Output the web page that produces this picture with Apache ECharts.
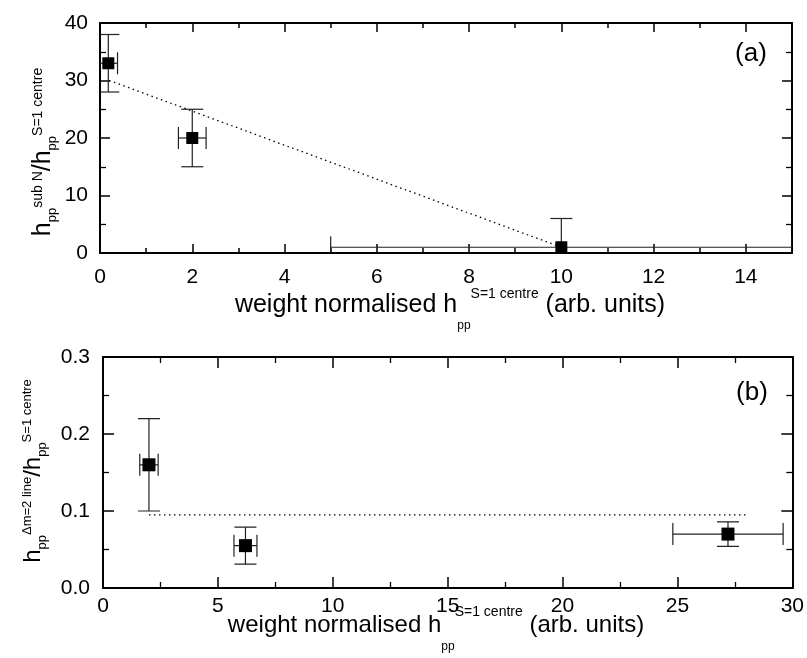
<!DOCTYPE html>
<html lang="en">
<head>
<meta charset="UTF-8">
<title>hpp ratios</title>
<style>
    body,html{
        margin: 0;
        width: 807px;
        height: 658px;
        background: #fff;
    }
    #chart{
        width: 807px;
        height: 658px;
    }
</style>
</head>
<body>
<div id="chart"></div>
<script src="https://cdn.jsdelivr.net/npm/echarts@6/dist/echarts.min.js"></script>
<script type="text/javascript">
    // panel (a): h_pp(sub N) / h_pp(S=1 centre)
    const xA = [0.18, 2.0, 10.0];
    const yA = [33, 20, 1];
    const xErrA = [0.2, 0.3, 5.0];
    const yErrA = [5, 5, 5];
    const fitXA = [0.2, 10];
    const fitYA = [30, 1];

    // panel (b): h_pp(dm=2 line) / h_pp(S=1 centre)
    const xB = [2.0, 6.2, 27.2];
    const yB = [0.16, 0.055, 0.07];
    const xErrB = [0.4, 0.5, 2.4];
    const yErrB = [0.06, 0.024, 0.016];
    const fitXB = [2, 28];
    const fitYB = [0.095, 0.095];

    const FONT = '"Liberation Sans", Arial, sans-serif';

    let myChart = echarts.init(document.getElementById("chart"));

    //轴
    function valueAxis(grid, pos, min, max, step, opt) {
        return {
            type: 'value', gridIndex: grid, position: pos,
            min: min, max: max, interval: step,
            axisLine: {show: opt.line, onZero: false, lineStyle: {color: '#000', width: 2}},
            axisTick: {show: true, inside: true, length: opt.tick, lineStyle: {color: '#000', width: 1.5}},
            minorTick: {show: !!opt.minor, splitNumber: 2, length: opt.minor || 0, lineStyle: {color: '#000', width: 1.3}},
            splitLine: {show: false},
            axisLabel: opt.label ? {
                show: true, margin: opt.margin, color: '#000',
                fontFamily: FONT, fontSize: 21, formatter: opt.fmt
            } : {show: false}
        };
    }

    //误差棒
    function errorBars(params, api) {
        let x = api.value(0), y = api.value(1), dx = api.value(2), dy = api.value(3);
        let c = api.coord([x, y]);
        let top = api.coord([x, y + dy]), bot = api.coord([x, y - dy]);
        let lft = api.coord([x - dx, y]), rgt = api.coord([x + dx, y]);
        let cap = 11;
        let st = {stroke: '#222', lineWidth: 1.2};
        let cs = params.coordSys;
        function seg(x1, y1, x2, y2) {
            return {type: 'line', shape: {x1: x1, y1: y1, x2: x2, y2: y2}, style: st};
        }
        return {
            type: 'group',
            clipPath: {type: 'rect', shape: {x: cs.x, y: cs.y, width: cs.width, height: cs.height}},
            children: [
                seg(c[0], top[1], c[0], bot[1]),
                seg(c[0] - cap, top[1], c[0] + cap, top[1]),
                seg(c[0] - cap, bot[1], c[0] + cap, bot[1]),
                seg(lft[0], c[1], rgt[0], c[1]),
                seg(lft[0], c[1] - cap, lft[0], c[1] + cap),
                seg(rgt[0], c[1] - cap, rgt[0], c[1] + cap)
            ]
        };
    }

    function pairs(xs, ys) {
        return xs.map((x, i) => [x, ys[i]]);
    }

    // m = main text, b = subscript, t = superscript
    function rich(m, sub, sup, lh, supPad) {
        return {
            m: {font: m + 'px ' + FONT, lineHeight: lh, verticalAlign: 'middle', fill: '#000'},
            b: {font: sub + 'px ' + FONT, lineHeight: sub, verticalAlign: 'bottom', fill: '#000'},
            t: {font: sup + 'px ' + FONT, lineHeight: sup, verticalAlign: 'top', fill: '#000', padding: [supPad, 0, 0, 0]}
        };
    }

    const xTitle = '{m|weight normalised h}{b|pp}{t|S=1 centre}{m| (arb. units)}';
    const yTitleA = '{m|h}{b|pp}{t|sub N}{m|/h}{b|pp}{t|S=1 centre}';
    const yTitleB = '{m|h}{b|pp}{t|\u0394m=2 line}{m|/h}{b|pp}{t|S=1 centre}';

    let option = {
        animation: false,
        grid: [
            {left: 100, top: 23, width: 692, height: 230},
            {left: 103, top: 357, width: 690, height: 231}
        ],
        xAxis: [
            valueAxis(0, 'bottom', 0, 15, 1, {line: true, tick: 5, label: true, margin: 14,
                fmt: v => (v % 2 === 0 ? String(v) : '')}),
            valueAxis(0, 'bottom', 0, 15, 2, {line: false, tick: 9}),
            valueAxis(0, 'top', 0, 15, 1, {line: true, tick: 5}),
            valueAxis(0, 'top', 0, 15, 2, {line: false, tick: 9}),
            valueAxis(1, 'bottom', 0, 30, 5, {line: true, tick: 11, minor: 6, label: true, margin: 8}),
            valueAxis(1, 'top', 0, 30, 5, {line: true, tick: 11, minor: 6})
        ],
        yAxis: [
            valueAxis(0, 'left', 0, 40, 10, {line: true, tick: 10, minor: 6, label: true, margin: 12}),
            valueAxis(0, 'right', 0, 40, 10, {line: true, tick: 10, minor: 6}),
            valueAxis(1, 'left', 0, 0.3, 0.1, {line: true, tick: 11, minor: 6, label: true, margin: 13,
                fmt: v => v.toFixed(1)}),
            valueAxis(1, 'right', 0, 0.3, 0.1, {line: true, tick: 11, minor: 6})
        ],
        graphic: [
            {type: 'text', x: 450, y: 305, style: {text: xTitle, rich: rich(25, 12, 14, 54, 9), align: 'center', verticalAlign: 'middle'}},
            {type: 'text', x: 436, y: 625, style: {text: xTitle, rich: rich(24, 12, 14, 56, 8), align: 'center', verticalAlign: 'middle'}},
            {type: 'text', x: 43, y: 152, rotation: Math.PI / 2,
                style: {text: yTitleA, rich: rich(25, 13, 14, 32, 4), align: 'center', verticalAlign: 'middle'}},
            {type: 'text', x: 33, y: 471, rotation: Math.PI / 2,
                style: {text: yTitleB, rich: rich(24, 13, 13, 32, 4), align: 'center', verticalAlign: 'middle'}},
            {type: 'text', x: 751, y: 54, style: {text: '(a)', font: '26px ' + FONT, fill: '#000', align: 'center', verticalAlign: 'middle'}},
            {type: 'text', x: 752, y: 393, style: {text: '(b)', font: '26px ' + FONT, fill: '#000', align: 'center', verticalAlign: 'middle'}}
        ],
        series: [
            {
                type: 'line', xAxisIndex: 0, yAxisIndex: 0, data: pairs(fitXA, fitYA),
                symbol: 'none', silent: true, z: 1,
                lineStyle: {color: '#000', width: 1.3, type: [1.5, 3.5]}
            },
            {
                type: 'custom', xAxisIndex: 0, yAxisIndex: 0, renderItem: errorBars, z: 2,
                data: xA.map((x, i) => [x, yA[i], xErrA[i], yErrA[i]]), encode: {x: 0, y: 1}
            },
            {
                type: 'scatter', xAxisIndex: 0, yAxisIndex: 0, data: pairs(xA, yA),
                symbol: 'rect', symbolSize: 12, itemStyle: {color: '#000', opacity: 1}, z: 3
            },
            {
                type: 'line', xAxisIndex: 4, yAxisIndex: 2, data: pairs(fitXB, fitYB),
                symbol: 'none', silent: true, z: 1,
                lineStyle: {color: '#000', width: 1.3, type: [1.5, 3.5]}
            },
            {
                type: 'custom', xAxisIndex: 4, yAxisIndex: 2, renderItem: errorBars, z: 2,
                data: xB.map((x, i) => [x, yB[i], xErrB[i], yErrB[i]]), encode: {x: 0, y: 1}
            },
            {
                type: 'scatter', xAxisIndex: 4, yAxisIndex: 2, data: pairs(xB, yB),
                symbol: 'rect', symbolSize: 13, itemStyle: {color: '#000', opacity: 1}, z: 3
            }
        ]
    };
    myChart.setOption(option);
</script>
</body>
</html>
